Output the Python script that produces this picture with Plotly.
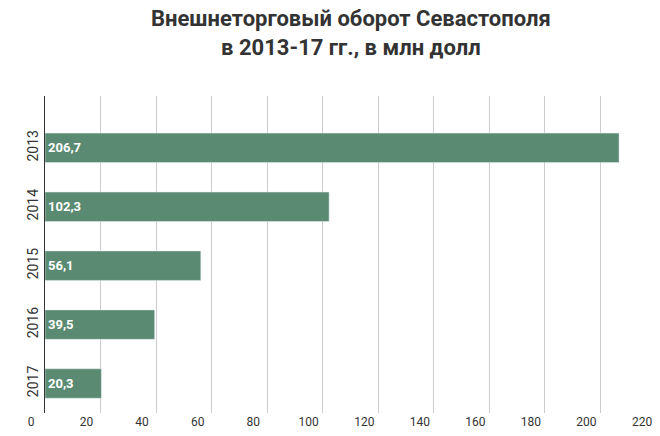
import plotly.graph_objects as go

years = ["2013", "2014", "2015", "2016", "2017"]
values = [206.7, 102.3, 56.1, 39.5, 20.3]
labels = ["206,7", "102,3", "56,1", "39,5", "20,3"]
xticks = list(range(0, 221, 20))

fig = go.Figure(go.Bar(
    y=years, x=values, orientation="h",
    marker_color="#5b8a72", width=0.5,
    text=labels, textposition="inside", insidetextanchor="start",
    textfont=dict(color="white", size=13, family="Roboto", weight="bold"),
))
fig.update_layout(
    width=660, height=436,
    margin=dict(l=37, r=12, t=88, b=31, autoexpand=False),
    paper_bgcolor="white", plot_bgcolor="white",
    annotations=[dict(text="<b>Внешнеторговый оборот Севастополя<br>в 2013-17 гг., в млн долл</b>",
               x=0.5, xref="paper", xanchor="center", y=436, yref="paper",
               yanchor="top", showarrow=False)],
    font=dict(family="Roboto", color="#333333", size=12),
    xaxis=dict(range=[0, 220], tickvals=xticks, showgrid=True, gridcolor="#cccccc",
               zeroline=False, ticklabelshift=-14, ticks="", automargin=False,
               tickfont=dict(size=12)),
    yaxis=dict(type="category", range=[4.5, -0.88], tickangle=-90, showline=True,
               linecolor="#333333", linewidth=1, ticks="", automargin=False,
               tickfont=dict(size=14)),
    bargap=0.5, showlegend=False,
)
fig.layout.annotations[0].update(y=1.29, font=dict(family="Roboto", size=22, color="#333333"))
fig.write_html("out.html")
